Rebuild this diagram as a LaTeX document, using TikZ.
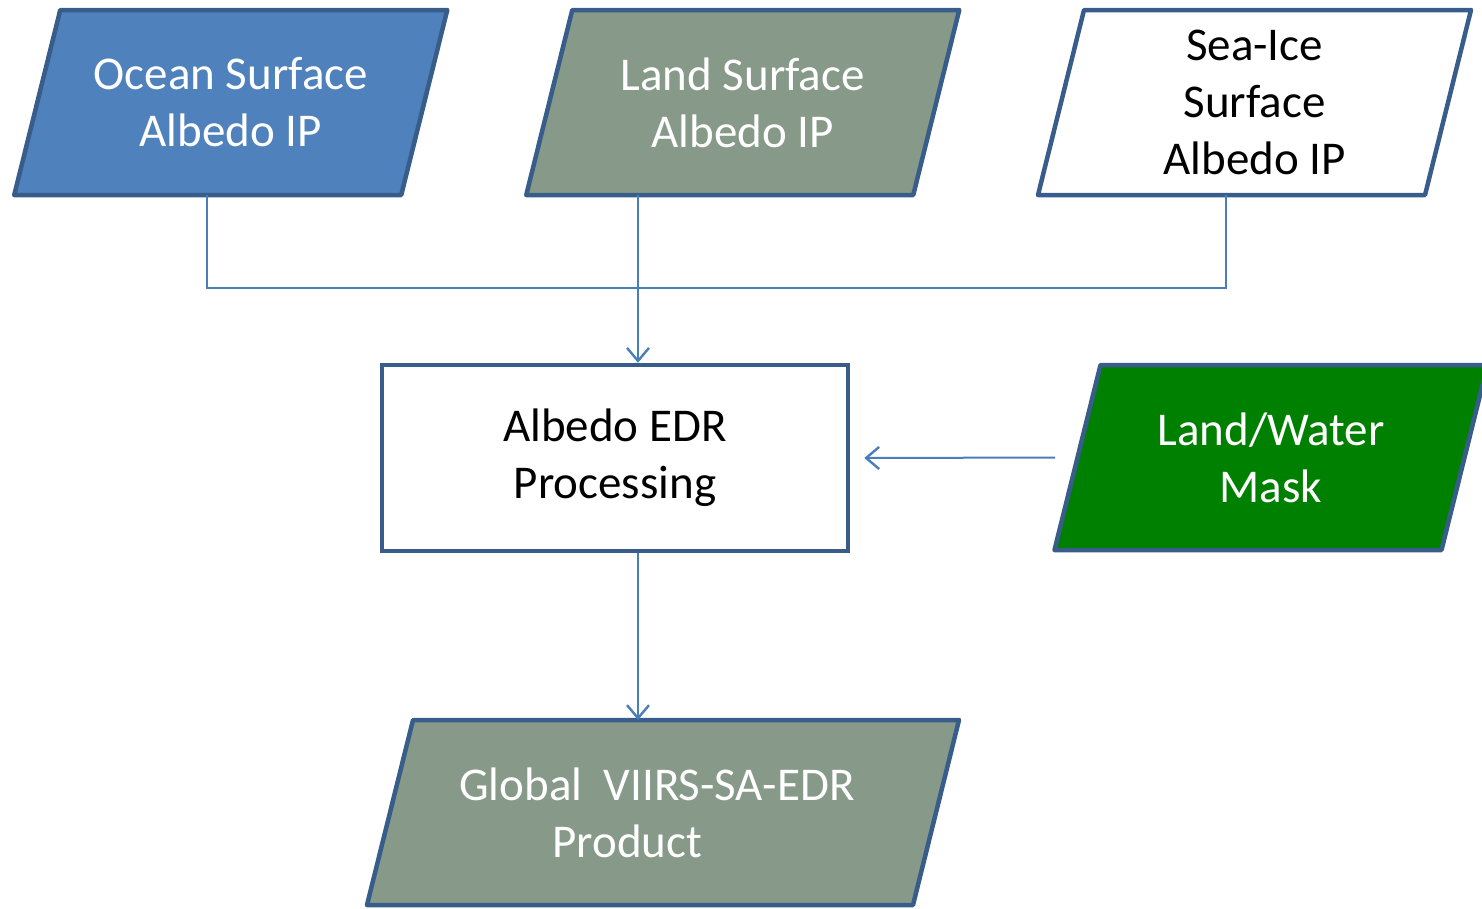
\documentclass[tikz,border=0pt]{standalone}
\usepackage{fontspec}
\setmainfont{Carlito}
\usetikzlibrary{arrows.meta,calc,backgrounds}

\definecolor{edgeblue}{RGB}{56,93,138}
\definecolor{linkblue}{RGB}{74,126,187}
\definecolor{oceanfill}{RGB}{79,129,189}
\definecolor{landfill}{RGB}{135,153,136}
\definecolor{maskfill}{RGB}{0,128,0}

\tikzset{
  % text frame of a data parallelogram: its width is the length of the top edge
  datatext/.style={rectangle, minimum width=387pt, minimum height=185pt,
    inner sep=0pt, outer sep=0pt, align=center, font=\fontsize{47}{57}\selectfont},
  paraedge/.style={draw=edgeblue, line width=4.5pt, line join=round},
  procbox/.style={rectangle, draw=edgeblue, line width=4.5pt, fill=white,
    minimum width=466pt, minimum height=186pt, inner sep=0pt,
    align=center, font=\fontsize{47}{57}\selectfont},
  link/.style={draw=linkblue, line width=2pt},
  flow/.style={link, -{Straight Barb[length=13pt,width=22pt,line width=2.4pt]}}
}

\begin{document}
\begin{tikzpicture}[x=1pt,y=-1pt]
\useasboundingbox (0,0) rectangle (1482,908);

% input products
\node[datatext, text=white] (ocean) at (230.75,102.5) {Ocean Surface\\Albedo IP};
\node[datatext, text=white] (land) at (742.75,102.5) {Land Surface\\Albedo IP};
\node[datatext, text=black] (seaice) at (1254.5,102.5) {Sea-Ice\\Surface\\Albedo IP};

% processing step and ancillary mask
\node[procbox] (proc) at (615,458) {Albedo EDR\\Processing};
\node[datatext, text=white] (mask) at (1271,457.5) {Land/Water\\Mask};

% output product
\node[datatext, text=white, minimum width=546pt] (global) at (663,812.5)
  {Global\ \ VIIRS-SA-EDR\hspace*{12pt}\\Product\hspace*{71.5pt}};

% slanted outlines behind the data nodes
\begin{scope}[on background layer]
  \foreach \n/\c in {ocean/oceanfill, land/landfill, seaice/white, mask/maskfill, global/landfill}
    \draw[paraedge, fill=\c]
      ([xshift=23pt]\n.north west) -- ([xshift=23pt]\n.north east)
      -- ([xshift=-23pt]\n.south east) -- ([xshift=-23pt]\n.south west) -- cycle;
\end{scope}

% collecting bus from the three albedo inputs
\coordinate (bus) at (638,288);
\draw[link] ([xshift=-23.75pt]ocean.south) |- (bus);
\draw[link] ([xshift=-28.5pt]seaice.south) |- (bus);
\draw[flow] (bus |- land.south) -- (bus |- proc.north);

% mask into processing
\draw[flow] ([xshift=-22.5pt]mask.west) -- ([xshift=14pt]proc.east);

% processing to output
\draw[flow] (bus |- proc.south) -- (bus |- global.north);
\end{tikzpicture}
\end{document}
